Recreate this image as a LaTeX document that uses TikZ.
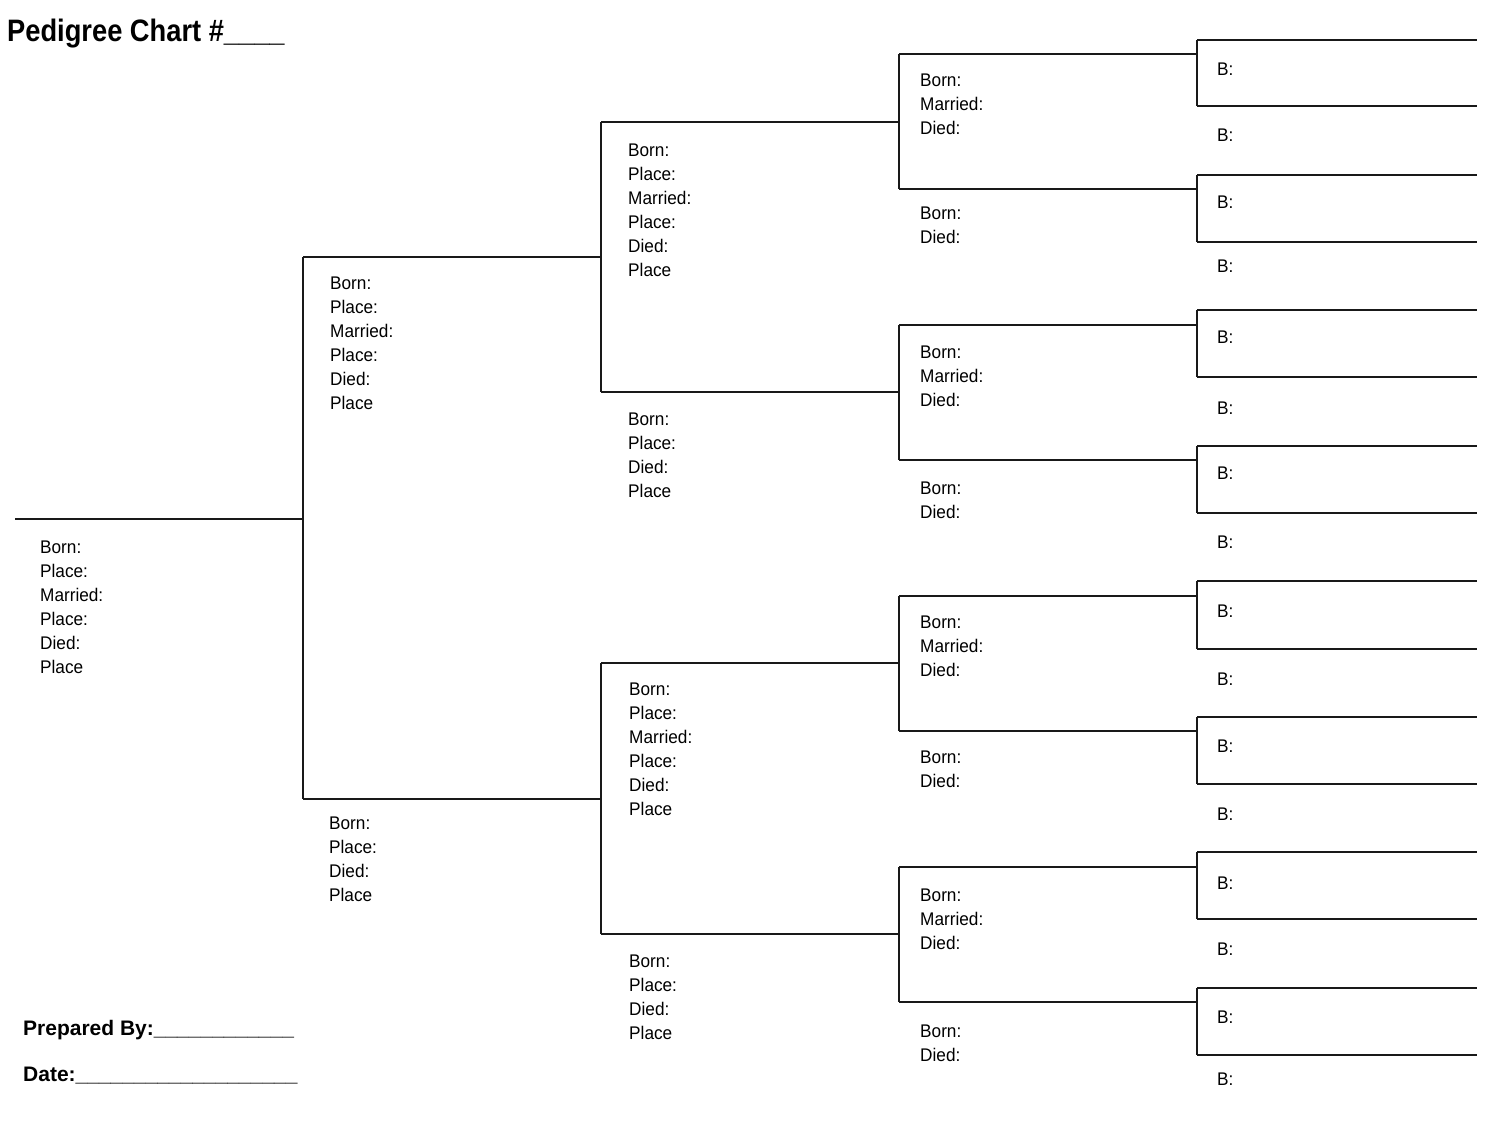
\documentclass[tikz,border=0pt]{standalone}
\usepackage{fontspec}
\setmainfont{Liberation Sans}[FakeStretch=0.94]
\newfontfamily\headfont{Liberation Sans}[FakeStretch=0.88]
\newfontfamily\footfont{Liberation Sans}
\begin{document}
\begin{tikzpicture}[x=1pt,y=-1pt,
  ln/.style={line width=2pt, draw=black!90},
  lbl/.style={anchor=north west, inner sep=0pt, align=left, font=\fontsize{18.3}{24}\selectfont},
  ttl/.style={anchor=base west, inner sep=0pt, font=\headfont\bfseries\fontsize{31}{36}\selectfont},
  foot/.style={anchor=base west, inner sep=0pt, font=\footfont\bfseries\fontsize{21}{25}\selectfont}]
\useasboundingbox (0,0) rectangle (1493,1125);
% ---------- title and footer ----------
\node[ttl] (title) at (7,41) {Pedigree Chart \#\_\_\_\_};
\node[foot] (prep) at (23,1035.5) {Prepared By:\_\_\_\_\_\_\_\_\_\_\_\_};
\node[foot] (date) at (23,1081.5) {Date:\_\_\_\_\_\_\_\_\_\_\_\_\_\_\_\_\_\_\_};
% ---------- generation 1 ----------
\coordinate (g1s) at (15,519);
\coordinate (g1e) at (303,519);
\coordinate (g2t) at (303,257);
\coordinate (g2b) at (303,799);
\draw[ln] (g1s) -- (g1e);
\draw[ln] (g2t) -- (g2b);
\node[lbl] (t1) at (40,540.5) {Born:\\Place:\\Married:\\Place:\\Died:\\Place};
% ---------- generation 2 ----------
\coordinate (g2te) at (601,257);
\coordinate (g2be) at (601,799);
\draw[ln] (g2t) -- (g2te);
\draw[ln] (g2b) -- (g2be);
\node[lbl] (t2a) at (330,276.5) {Born:\\Place:\\Married:\\Place:\\Died:\\Place};
\node[lbl] (t2b) at (329,816.5) {Born:\\Place:\\Died:\\Place};
% ---------- generation 3 ----------
\foreach \a/\b [count=\i] in {122/392,663/934}{
  \coordinate (v3a\i) at (601,\a);
  \coordinate (v3b\i) at (601,\b);
  \coordinate (e3a\i) at (899,\a);
  \coordinate (e3b\i) at (899,\b);
  \draw[ln] (v3a\i) -- (v3b\i);
  \draw[ln] (v3a\i) -- (e3a\i);
  \draw[ln] (v3b\i) -- (e3b\i);
}
\node[lbl] (t3a1) at (628,143.5) {Born:\\Place:\\Married:\\Place:\\Died:\\Place};
\node[lbl] (t3b1) at (628,412.5) {Born:\\Place:\\Died:\\Place};
\node[lbl] (t3a2) at (629,682.5) {Born:\\Place:\\Married:\\Place:\\Died:\\Place};
\node[lbl] (t3b2) at (629,954.5) {Born:\\Place:\\Died:\\Place};
% ---------- generation 4 ----------
\foreach \a/\b/\ta/\tb [count=\i] in {54/189/80/213, 325/460/352/488, 596/731/622/757, 867/1002/895/1031}{
  \coordinate (v4a\i) at (899,\a);
  \coordinate (v4b\i) at (899,\b);
  \coordinate (e4a\i) at (1197,\a);
  \coordinate (e4b\i) at (1197,\b);
  \draw[ln] (v4a\i) -- (v4b\i);
  \draw[ln] (v4a\i) -- (e4a\i);
  \draw[ln] (v4b\i) -- (e4b\i);
  \node[lbl] (t4a\i) at (920,\ta-6.5) {Born:\\Married:\\Died:};
  \node[lbl] (t4b\i) at (920,\tb-6.5) {Born:\\Died:};
}
% ---------- generation 5 ----------
\foreach \a/\b/\ta/\tb [count=\i] in {40/106/69/135, 175/242/202/266, 310/377/337/408, 446/513/473/542,
    581/649/611/679, 717/784/746/814, 852/919/883/949, 988/1055/1017/1079}{
  \coordinate (v5a\i) at (1197,\a);
  \coordinate (v5b\i) at (1197,\b);
  \coordinate (e5a\i) at (1477,\a);
  \coordinate (e5b\i) at (1477,\b);
  \draw[ln] (v5a\i) -- (v5b\i);
  \draw[ln] (v5a\i) -- (e5a\i);
  \draw[ln] (v5b\i) -- (e5b\i);
  \node[lbl] (t5a\i) at (1217,\ta-6.5) {B:};
  \node[lbl] (t5b\i) at (1217,\tb-6.5) {B:};
}
\end{tikzpicture}
\end{document}
